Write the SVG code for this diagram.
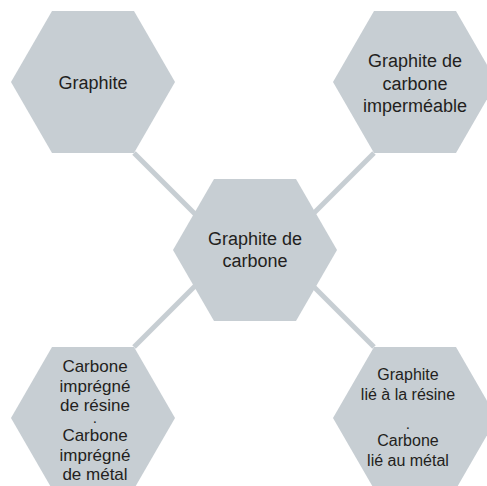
<svg xmlns="http://www.w3.org/2000/svg" xmlns:xlink="http://www.w3.org/1999/xlink" width="487" height="486" viewBox="0 0 487 486">
  <style>
    .hex { fill: #c7ced3; }
    .link { stroke: #c7ced3; stroke-width: 5; fill: none; }
    .label { font-family: "Liberation Sans", Arial, sans-serif; font-size: 18px; fill: #231f20; text-anchor: middle; }
    .mid { font-size: 17px; }
    .small { font-size: 16px; }
    .sep { font-size: 10px; font-weight: bold; }
  </style>
  <defs>
    <!-- flat-topped regular hexagon, circumradius 82, centred on the origin -->
    <polygon id="hexShape" points="-82,0 -41,-71 41,-71 82,0 41,71 -41,71"/>
  </defs>
  <rect width="487" height="486" fill="#ffffff"/>

  <g id="connectors">
    <line class="link" x1="134" y1="153" x2="205" y2="224"/>
    <line class="link" x1="374" y1="153" x2="305" y2="222"/>
    <line class="link" x1="134" y1="347" x2="205" y2="276"/>
    <line class="link" x1="374" y1="347" x2="305" y2="278"/>
  </g>

  <g id="graphite">
    <use xlink:href="#hexShape" class="hex" x="93" y="82"/>
    <text class="label" x="93" y="89">Graphite</text>
  </g>

  <g id="graphite-impermeable">
    <use xlink:href="#hexShape" class="hex" x="415" y="82"/>
    <text class="label" x="415" y="67">Graphite de</text>
    <text class="label" x="415" y="89.5">carbone</text>
    <text class="label" x="415" y="112">imperméable</text>
  </g>

  <g id="graphite-carbone">
    <use xlink:href="#hexShape" class="hex" x="255" y="250"/>
    <text class="label" x="255" y="245">Graphite de</text>
    <text class="label" x="255" y="267">carbone</text>
  </g>

  <g id="carbone-impregne">
    <use xlink:href="#hexShape" class="hex" x="93" y="418"/>
    <text class="label mid" x="95" y="372">Carbone</text>
    <text class="label mid" x="95" y="391.5">imprégné</text>
    <text class="label mid" x="95" y="411">de résine</text>
    <text class="label sep" x="95" y="423">.</text>
    <text class="label mid" x="95" y="441">Carbone</text>
    <text class="label mid" x="95" y="460.5">imprégné</text>
    <text class="label mid" x="95" y="480">de métal</text>
  </g>

  <g id="carbone-lie">
    <use xlink:href="#hexShape" class="hex" x="415" y="418"/>
    <text class="label small" x="408" y="380">Graphite</text>
    <text class="label small" x="408" y="400">lié à la résine</text>
    <text class="label sep" x="408" y="429">.</text>
    <text class="label small" x="408" y="446">Carbone</text>
    <text class="label small" x="408" y="466">lié au métal</text>
  </g>
</svg>
